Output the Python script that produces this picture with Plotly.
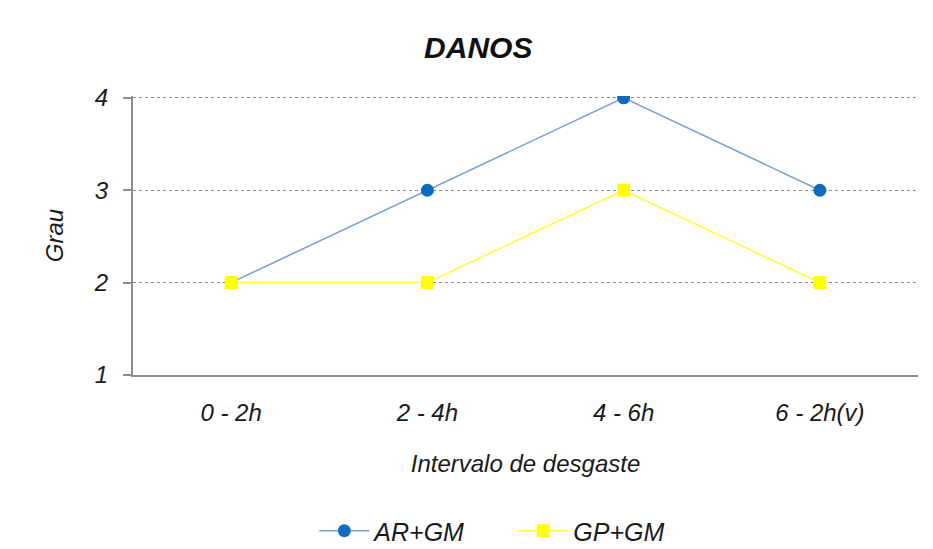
import plotly.graph_objects as go

categories = ["0 - 2h", "2 - 4h", "4 - 6h", "6 - 2h(v)"]
ar_gm = [2, 3, 4, 3]
gp_gm = [2, 2, 3, 2]
y_ticks = [1, 2, 3, 4]

FONT = "Liberation Sans, Arial, sans-serif"

fig = go.Figure()
fig.add_trace(go.Scatter(
    x=categories, y=ar_gm, name="AR+GM", mode="lines+markers",
    line=dict(color="#7a9fd2", width=1.5),
    marker=dict(symbol="circle", size=13, color="#0e6bbf"),
))
fig.add_trace(go.Scatter(
    x=categories, y=gp_gm, name="GP+GM", mode="lines+markers",
    line=dict(color="#ffff33", width=1.5),
    marker=dict(symbol="square", size=13, color="#ffff00"),
))

fig.update_layout(
    width=933, height=549,
    margin=dict(l=125, r=23, t=88, b=182),
    paper_bgcolor="white", plot_bgcolor="white",
    font=dict(family=FONT, color="#1a1a1a", size=24),
    title=dict(text="DANOS", x=0.504, xref="container", xanchor="center",
               y=1 - 39 / 549, yref="container", yanchor="middle",
               font=dict(family=FONT, size=30, weight="bold", style="italic", color="#111")),
    showlegend=True,
    legend=dict(orientation="h", x=0.231, xanchor="left", xref="paper",
                y=1 - 523 / 549, yref="container", yanchor="middle",
                font=dict(family=FONT, size=25, style="italic", color="#1a1a1a"),
                itemwidth=50, entrywidth=134),
)
fig.update_xaxes(
    type="category", range=[-0.5, 3.5], automargin=False,
    showline=True, linecolor="#8c8c8c", linewidth=2,
    showgrid=False, ticks="", ticklabelstandoff=15,
    tickfont=dict(family=FONT, size=24, style="italic"),
    title=dict(text="Intervalo de desgaste", standoff=30,
               font=dict(family=FONT, size=24, style="italic")),
    fixedrange=True,
)
fig.update_yaxes(
    range=[1, 4.02], tickvals=y_ticks, automargin=False,
    showline=True, linecolor="#8c8c8c", linewidth=2,
    ticks="outside", ticklen=8, tickcolor="#8c8c8c", tickwidth=2,
    showgrid=True, gridcolor="#8c8c8c", griddash="dot", gridwidth=1,
    zeroline=False, ticklabelstandoff=10,
    tickfont=dict(family=FONT, size=24, style="italic"),
    title=dict(text="Grau", standoff=23,
               font=dict(family=FONT, size=24, style="italic")),
)

fig.write_html("out.html")
